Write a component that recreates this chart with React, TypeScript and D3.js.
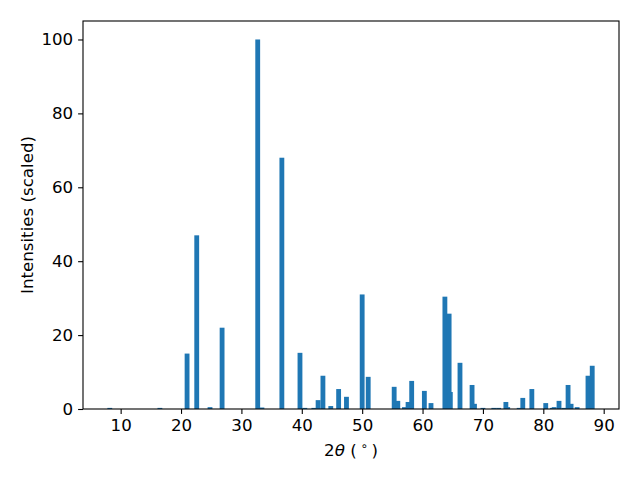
import React, { useEffect, useRef } from 'react';
import * as d3 from 'd3';

// peak positions (2theta, degrees) and scaled intensities
const positions = [
  8.2, 16.5, 21.0, 22.6, 24.8, 26.8, 32.7, 33.4, 36.7, 39.7,
  40.5, 42.0, 42.7, 43.5, 44.8, 46.1, 47.4, 50.0, 51.0, 55.3,
  55.9, 57.0, 57.6, 58.2, 60.3, 61.4, 63.7, 64.4, 64.6, 66.2,
  68.2, 68.6, 70.0, 71.8, 72.6, 73.8, 74.1, 76.0, 76.6, 78.1,
  80.4, 81.5, 81.8, 82.6, 83.4, 84.1, 84.6, 85.6, 87.4, 88.1,
];
const intensities = [
  0.3, 0.3, 15, 47, 0.5, 22, 100, 0.4, 68, 15.2,
  0.3, 0.3, 2.4, 9.0, 0.8, 5.4, 3.3, 31, 8.7, 6.0,
  2.2, 0.5, 1.9, 7.6, 4.9, 1.6, 30.4, 25.8, 4.6, 12.5,
  6.5, 1.4, 0.3, 0.3, 0.3, 1.9, 0.5, 0.3, 3.0, 5.4,
  1.6, 0.3, 0.5, 2.2, 0.3, 6.5, 1.4, 0.5, 9.0, 11.7,
];
const xTicks = [10, 20, 30, 40, 50, 60, 70, 80, 90];
const yTicks = [0, 20, 40, 60, 80, 100];
const barWidth = 0.8;

const App = () => {
  const ref = useRef<SVGSVGElement>(null);

  useEffect(() => {
    if (!ref.current) return;
    const svg = d3.select(ref.current);
    svg.selectAll('*').remove();

    const margin = { top: 21, right: 21, bottom: 71, left: 83 };
    const width = 640 - margin.left - margin.right;
    const height = 480 - margin.top - margin.bottom;
    const font = 'DejaVu Sans, sans-serif';
    const fs = 16.67;

    const lo = d3.min(positions)! - barWidth / 2;
    const hi = d3.max(positions)! + barWidth / 2;
    const pad = (hi - lo) * 0.05;
    const x = d3.scaleLinear().domain([lo - pad, hi + pad]).range([0, width]);
    const y = d3.scaleLinear().domain([0, 105]).range([height, 0]);

    const g = svg.append('g').attr('transform', `translate(${margin.left},${margin.top})`);

    const data = positions.map((p, i) => ({ p, v: intensities[i] }));
    g.selectAll('rect.bar')
      .data(data)
      .enter()
      .append('rect')
      .attr('class', 'bar')
      .attr('x', d => x(d.p - barWidth / 2))
      .attr('width', x(barWidth) - x(0))
      .attr('y', d => y(d.v))
      .attr('height', d => y(0) - y(d.v))
      .attr('fill', '#1f77b4');

    const xAxis = g.append('g')
      .attr('transform', `translate(0,${height})`)
      .call(d3.axisBottom(x).tickValues(xTicks).tickSize(4.9).tickPadding(4.9).tickFormat(d3.format('d')));
    xAxis.select('.domain').remove();
    xAxis.selectAll('text').attr('font-family', font).attr('font-size', fs).attr('fill', '#000');
    xAxis.selectAll('line').attr('stroke', '#000').attr('stroke-width', 1.1);

    const yAxis = g.append('g')
      .call(d3.axisLeft(y).tickValues(yTicks).tickSize(4.9).tickPadding(4.9).tickFormat(d3.format('d')));
    yAxis.select('.domain').remove();
    yAxis.selectAll('text').attr('font-family', font).attr('font-size', fs).attr('fill', '#000');
    yAxis.selectAll('line').attr('stroke', '#000').attr('stroke-width', 1.1);

    g.append('rect')
      .attr('width', width)
      .attr('height', height)
      .attr('fill', 'none')
      .attr('stroke', '#000')
      .attr('stroke-width', 1.1);

    // x label: 2θ (°)
    const xl = svg.append('text')
      .attr('x', margin.left + width / 2)
      .attr('y', 456)
      .attr('text-anchor', 'middle')
      .attr('font-family', font)
      .attr('font-size', fs)
      .attr('fill', '#000');
    xl.append('tspan').text('2');
    xl.append('tspan').attr('font-style', 'italic').text('θ');
    xl.append('tspan').text(' (');
    xl.append('tspan').attr('font-size', fs * 0.7).attr('dy', -6).text(' ∘ ');
    xl.append('tspan').attr('dy', 6).text(')');

    svg.append('text')
      .attr('transform', `translate(33,${margin.top + height / 2}) rotate(-90)`)
      .attr('text-anchor', 'middle')
      .attr('font-family', font)
      .attr('font-size', fs)
      .attr('fill', '#000')
      .text('Intensities (scaled)');
  }, []);

  return (
    <svg
      ref={ref}
      width={640}
      height={480}
      style={{ position: 'absolute', left: 0, top: 0, background: '#fff' }}
    />
  );
};

export default App;
